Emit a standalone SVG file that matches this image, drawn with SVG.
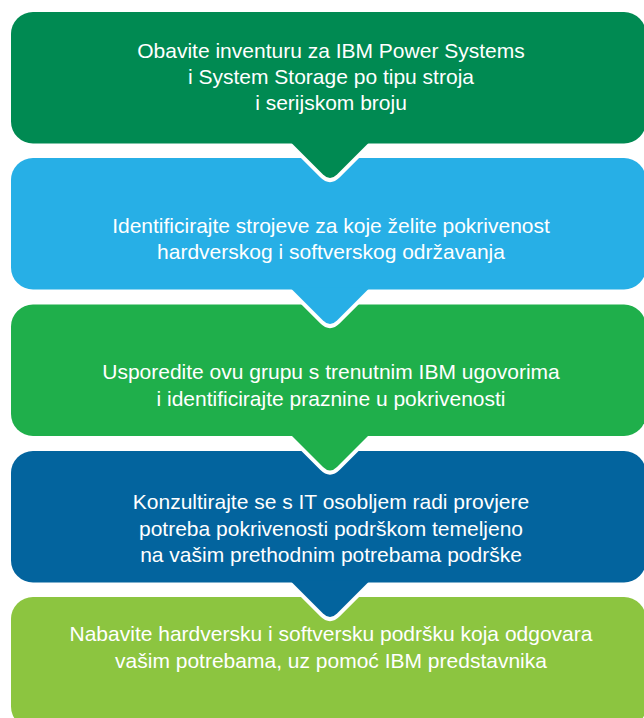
<svg xmlns="http://www.w3.org/2000/svg" width="644" height="718" viewBox="0 0 644 718">
<style>
  .lbl { font-family: "Liberation Sans", Arial, Helvetica, sans-serif; font-size: 21px; fill: #ffffff; text-anchor: middle; }
  .halo { fill: none; stroke: #ffffff; stroke-width: 8; stroke-linejoin: round; }
  .c1 { fill: #008a52; }
  .c2 { fill: #27afe6; }
  .c3 { fill: #1faf4b; }
  .c4 { fill: #03649e; }
  .c5 { fill: #8cc540; }
</style>
<rect width="644" height="718" fill="#ffffff"/>

<g id="step5">
  <rect class="c5" x="11" y="597" width="635" height="131.5" rx="22"/>
  <text class="lbl" x="331" y="641">Nabavite hardversku i softversku podršku koja odgovara</text>
  <text class="lbl" x="331" y="668">vašim potrebama, uz pomoć IBM predstavnika</text>
</g>

<g id="step4">
  <rect class="c4" x="11" y="451" width="635" height="131.5" rx="22"/>
  <text class="lbl" x="331" y="509">Konzultirajte se s IT osobljem radi provjere</text>
  <text class="lbl" x="331" y="536">potreba pokrivenosti podrškom temeljeno</text>
  <text class="lbl" x="331" y="562">na vašim prethodnim potrebama podrške</text>
</g>

<g id="step3">
  <rect class="c3" x="11" y="304.5" width="635" height="131.5" rx="22"/>
  <text class="lbl" x="331" y="379">Usporedite ovu grupu s trenutnim IBM ugovorima</text>
  <text class="lbl" x="331" y="406">i identificirajte praznine u pokrivenosti</text>
</g>

<g id="step2">
  <rect class="c2" x="11" y="158" width="635" height="131.5" rx="22"/>
  <text class="lbl" x="331" y="233">Identificirajte strojeve za koje želite pokrivenost</text>
  <text class="lbl" x="331" y="259">hardverskog i softverskog održavanja</text>
</g>

<g id="step1">
  <rect class="c1" x="11" y="12" width="635" height="131.5" rx="22"/>
  <text class="lbl" x="331" y="58">Obavite inventuru za IBM Power Systems</text>
  <text class="lbl" x="331" y="84">i System Storage po tipu stroja</text>
  <text class="lbl" x="331" y="110">i serijskom broju</text>
</g>

<g id="connectors">
  <!-- arrow tab from step1 into step2 -->
  <path class="halo" d="M300,151.5 L323,174.5 Q330,181.5 337,174.5 L360,151.5"/>
  <path class="c1" d="M290,141.5 L323,174.5 Q330,181.5 337,174.5 L370,141.5 Z"/>
  <!-- step2 -> step3 -->
  <path class="halo" d="M300,297.5 L323,320.5 Q330,327.5 337,320.5 L360,297.5"/>
  <path class="c2" d="M290,287.5 L323,320.5 Q330,327.5 337,320.5 L370,287.5 Z"/>
  <!-- step3 -> step4 -->
  <path class="halo" d="M300,444 L323,467 Q330,474 337,467 L360,444"/>
  <path class="c3" d="M290,434 L323,467 Q330,474 337,467 L370,434 Z"/>
  <!-- step4 -> step5 -->
  <path class="halo" d="M300,590.5 L323,613.5 Q330,620.5 337,613.5 L360,590.5"/>
  <path class="c4" d="M290,580.5 L323,613.5 Q330,620.5 337,613.5 L370,580.5 Z"/>
</g>
</svg>
